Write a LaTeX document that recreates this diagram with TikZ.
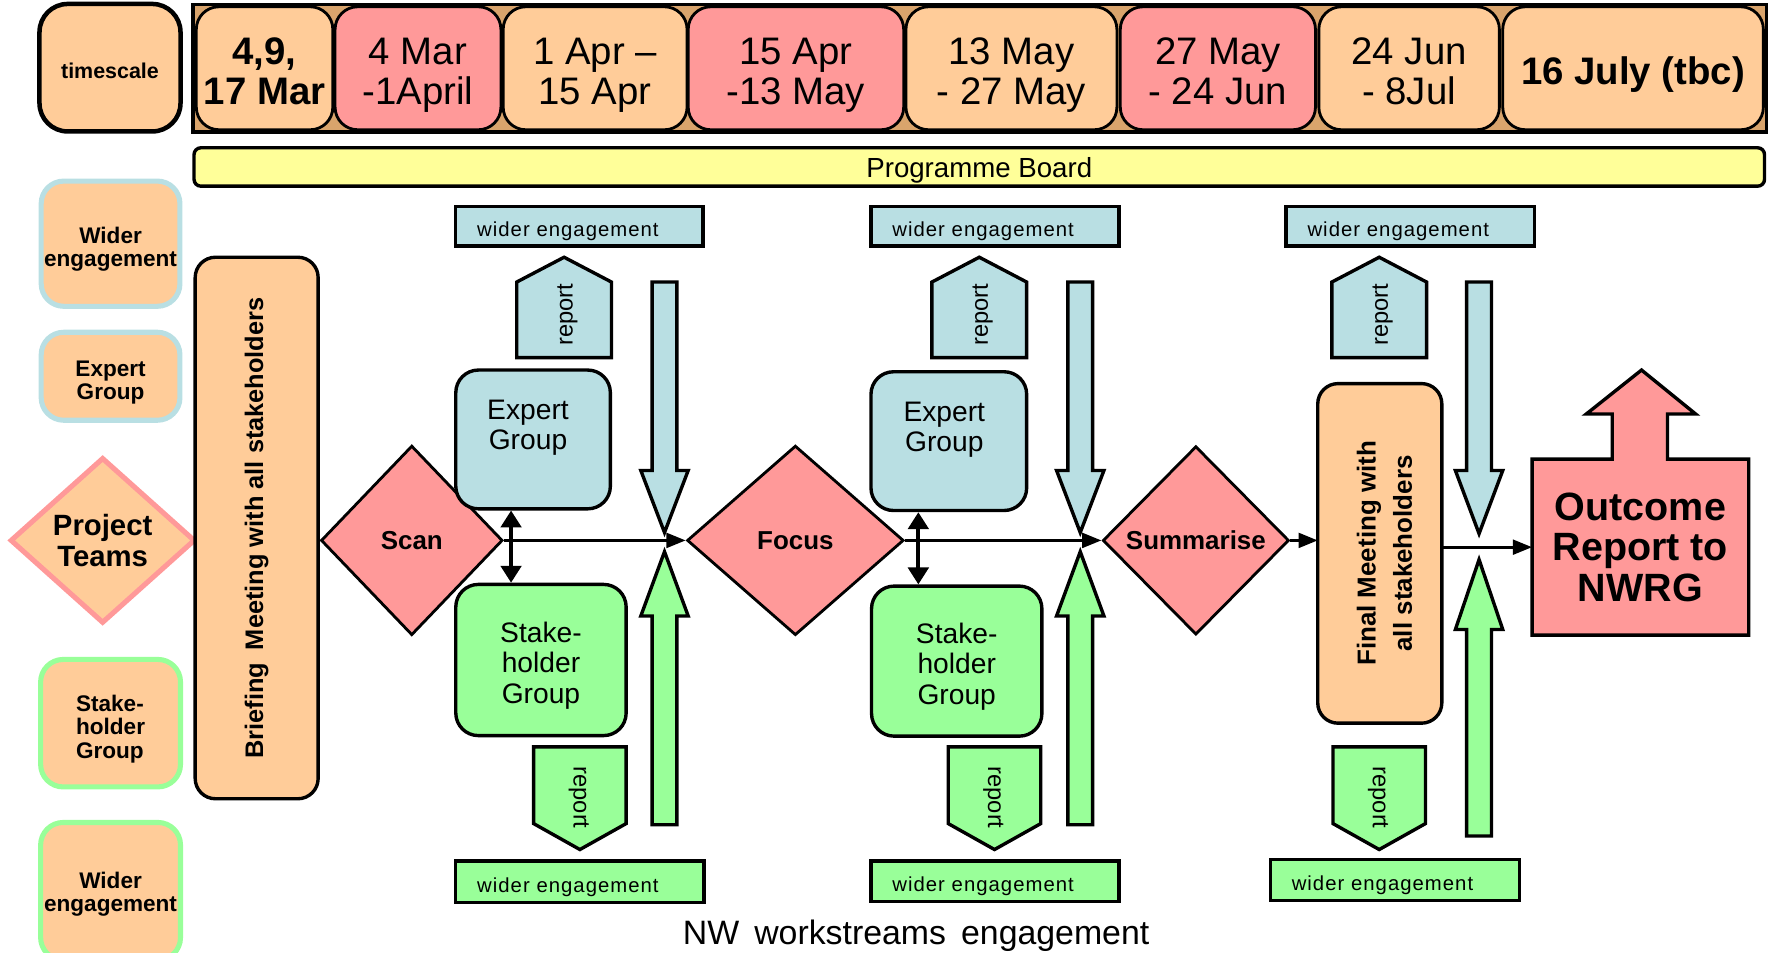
\documentclass[tikz,border=0pt]{standalone}
\usepackage{fontspec}
\setmainfont{Liberation Sans}
\usetikzlibrary{shapes.geometric,arrows.meta,calc}
\definecolor{orng}{HTML}{FFCC99}
\definecolor{pnk}{HTML}{FF9999}
\definecolor{lblue}{HTML}{B9DFE3}
\definecolor{grn}{HTML}{99FF99}
\definecolor{yel}{HTML}{FFFF99}
\definecolor{frametan}{HTML}{D9A46C}
\newcommand\fsz[2]{\fontsize{#1}{#2}\selectfont}
% invisible struts that fix the height of a centred text block
\newcommand\lift[1]{\rule{0pt}{#1}}
\newcommand\sink{\rule[-8pt]{0pt}{8pt}}
\begin{document}
\begin{tikzpicture}[x=1pt,y=-1pt,
  box/.style={draw, line width=2.5pt, rounded corners=20pt, align=center, inner sep=0pt, outer sep=0pt},
  tl/.style={box, font=\fsz{34}{36}},
  leg/.style={line width=4.5pt, rounded corners=20pt, fill=orng, align=center, inner sep=0pt, font=\bfseries\fsz{20}{20.5}},
  wbox/.style={draw, line width=3pt, inner xsep=19pt, inner ysep=0pt, text width=#1, align=left, minimum height=35pt, font=\fsz{18}{19}\addfontfeature{LetterSpace=5}},
  grp/.style={draw, line width=3pt, rounded corners=20pt, inner sep=0pt, align=center, font=\fsz{25}{27}},
  dia/.style={diamond, draw, line width=2.5pt, fill=pnk, inner sep=0pt, font=\bfseries\fsz{23}{24}},
  rep/.style={font=\fsz{21}{22}, inner sep=0pt},
  bigarrow/.style={draw, line width=3pt, line join=miter},
  link/.style={line width=2.7pt, -{Triangle[length=17pt,width=13pt]}},
  dbl/.style={line width=3.5pt, {Triangle[length=15pt,width=18pt]}-{Triangle[length=15pt,width=18pt]}}]

\useasboundingbox (0,0) rectangle (1568,844);
\clip (0,0) rectangle (1568,844);

% ---- timeline ----
\node[draw, line width=4pt, rounded corners=25pt, fill=orng, minimum width=125pt, minimum height=113pt, inner sep=0pt, font=\bfseries\fsz{19}{20}] (ts) at (97.5,60) {\lift{20pt}timescale};
\draw[line width=3pt, fill=frametan] (171,4) rectangle (1566,117);
\node[tl, fill=orng, minimum width=121pt, minimum height=109pt, font=\bfseries\fsz{34}{36}] (t1) at (234.5,60.5) {\lift{37pt}4,9,\\17 Mar\sink};
\node[tl, fill=pnk,  minimum width=147pt, minimum height=109pt] (t2) at (370.5,60.5) {\lift{37pt}4 Mar\\-1April\sink};
\node[tl, fill=orng, minimum width=163pt, minimum height=109pt] (t3) at (527.5,60.5) {\lift{37pt}1 Apr –\\15 Apr\sink};
\node[tl, fill=pnk,  minimum width=191pt, minimum height=109pt] (t4) at (705.5,60.5) {\lift{37pt}15 Apr\\-13 May\sink};
\node[tl, fill=orng, minimum width=187pt, minimum height=109pt] (t5) at (896.5,60.5) {\lift{37pt}13 May\\- 27 May\sink};
\node[tl, fill=pnk,  minimum width=173pt, minimum height=109pt] (t6) at (1079.5,60.5) {\lift{37pt}27 May\\- 24 Jun\sink};
\node[tl, fill=orng, minimum width=160pt, minimum height=109pt] (t7) at (1249,60.5) {\lift{37pt}24 Jun\\- 8Jul\sink};
\node[tl, fill=orng, minimum width=231pt, minimum height=109pt, font=\bfseries\fsz{34}{36}] (t8) at (1447.5,60.5) {\lift{35pt}16 July (tbc)};

\node[draw, line width=3pt, rounded corners=6pt, fill=yel, minimum width=1392pt, minimum height=34pt, inner sep=0pt, font=\fsz{24.5}{25}] (board) at (868,148) {\lift{24pt}Programme Board};

% ---- legend column ----
\node[leg, draw=lblue, minimum width=123pt, minimum height=111pt] (lwe1) at (98,216) {\lift{25pt}Wider\\engagement};
\node[leg, draw=lblue, minimum width=123pt, minimum height=78pt] (lexp) at (98,333.5) {\lift{25pt}Expert\\Group};
\node[diamond, draw=pnk, line width=4.5pt, fill=orng, inner sep=0pt, minimum width=164pt, minimum height=147pt, align=center, font=\bfseries\fsz{26}{28}] (proj) at (91,479) {Project\\Teams};
\node[leg, draw=grn, minimum width=124pt, minimum height=113pt, align=left] (lsh) at (98,641) {\lift{25pt}Stake-\\holder\\Group};
\node[leg, draw=grn, minimum width=124pt, minimum height=122pt] (lwe2) at (98,790) {\lift{19pt}Wider\\engagement};

% ---- meetings ----
\node[box, fill=orng, line width=3pt, rounded corners=18pt, rotate=90, minimum width=480pt, minimum height=109pt, font=\bfseries\fsz{22.5}{24}] (brief) at (227.5,468) {Briefing\enspace Meeting with all stakeholders};
\node[box, fill=orng, line width=3pt, rounded corners=18pt, rotate=90, minimum width=301pt, minimum height=110pt, font=\bfseries\fsz{23}{32}] (final) at (1223,490.5) {\lift{25pt}Final Meeting with\\all stakeholders};

% ---- stage diamonds ----
\node[dia, minimum width=161pt, minimum height=168pt] (scan) at (365,479) {Scan};
\node[dia, minimum width=192pt, minimum height=168pt] (focus) at (705,479) {Focus};
\node[dia, minimum width=165pt, minimum height=167pt] (sum) at (1060,479) {Summarise};

% ---- groups ----
\node[grp, fill=lblue, minimum width=137pt, minimum height=123pt] (eg1) at (472.5,389.5) {};
\node[grp, draw=none, fill=none] (eg1t) at (468,379) {Expert\\Group};
\node[grp, fill=lblue, minimum width=138pt, minimum height=123pt] (eg2) at (841,391) {};
\node[grp, draw=none, fill=none] (eg2t) at (837,381) {Expert\\Group};
\node[grp, fill=grn, minimum width=151pt, minimum height=134pt] (sg1) at (479.5,585) {\lift{28pt}Stake-\\holder\\Group};
\node[grp, fill=grn, minimum width=151pt, minimum height=133pt] (sg2) at (848,586) {\lift{28pt}Stake-\\holder\\Group};

% ---- wider engagement bars ----
\node[wbox=181pt, fill=lblue] (wt1) at (513.5,200.5) {\lift{22pt}wider engagement};
\node[wbox=182pt, fill=lblue] (wt2) at (882,200.5) {\lift{22pt}wider engagement};
\node[wbox=182pt, fill=lblue] (wt3) at (1250,200.5) {\lift{22pt}wider engagement};
\node[wbox=182pt, fill=grn, minimum height=37pt] (wb1) at (514,781.5) {\lift{23pt}wider engagement};
\node[wbox=182pt, fill=grn, minimum height=36pt] (wb2) at (882,781) {\lift{23pt}wider engagement};
\node[wbox=183pt, fill=grn, minimum height=36pt] (wb3) at (1236.5,780) {\lift{23pt}wider engagement};

% ---- report arrows ----
\foreach \c/\n in {500/1, 868/2, 1222.5/3} {
  \draw[bigarrow, fill=lblue] ({\c-42},317) -- ({\c-42},250) -- (\c,228) -- ({\c+42},250) -- ({\c+42},317) -- cycle;
  \node[rep, rotate=90] (ru\n) at ({\c+3},279) {report};
}
\foreach \c/\n in {514/1, 881.5/2, 1222.5/3} {
  \draw[bigarrow, fill=grn] ({\c-41},662) -- ({\c+41},662) -- ({\c+41},730) -- (\c,753) -- ({\c-41},730) -- cycle;
  \node[rep, rotate=-90] (rd\n) at ({\c-1},707) {report};
}

% ---- large input arrows ----
\foreach \c/\tip in {589/472, 957.5/472, 1311/473} {
  \draw[bigarrow, fill=lblue] ({\c-11},250) -- ({\c+11},250) -- ({\c+11},417) -- ({\c+21},417) -- (\c,\tip) -- ({\c-21},417) -- ({\c-11},417) -- cycle;
}
\foreach \c/\bot/\hb/\tip in {589/731/546/489, 957.5/731/546/489, 1311/741/558/496} {
  \draw[bigarrow, fill=grn] ({\c-11},\bot) -- ({\c+11},\bot) -- ({\c+11},\hb) -- ({\c+21},\hb) -- (\c,\tip) -- ({\c-21},\hb) -- ({\c-11},\hb) -- cycle;
}

% ---- outcome box with upward arrow ----
\draw[bigarrow, fill=pnk] (1358,407) -- (1429,407) -- (1429,367) -- (1406,367) -- (1455,328) -- (1503,367) -- (1478,367) -- (1478,407) -- (1550,407) -- (1550,563) -- (1358,563) -- cycle;
\node[minimum width=192pt, minimum height=156pt, inner sep=0pt, outer sep=0pt, align=center, font=\bfseries\fsz{35}{36}] (outcome) at (1454,485) {Outcome\\Report to\\NWRG};

% ---- connectors ----
\coordinate (d1x) at (453,0);
\coordinate (d2x) at (814,0);
\draw[dbl] (eg1.south -| d1x) -- (sg1.north -| d1x);
\draw[dbl] (eg2.south -| d2x) -- (sg2.north -| d2x);
\draw[link] (scan.east) -- (focus.west);
\draw[link] (focus.east) -- (sum.west);
\draw[link] (sum.east) -- (sum.east -| final.north);
\draw[link] (final.south |- outcome.west) -- (outcome.west);

% ---- caption ----
\node[anchor=base, inner sep=0pt, font=\fsz{30}{31}] (caption) at (812,837) {NW\, workstreams\, engagement};
\end{tikzpicture}
\end{document}
